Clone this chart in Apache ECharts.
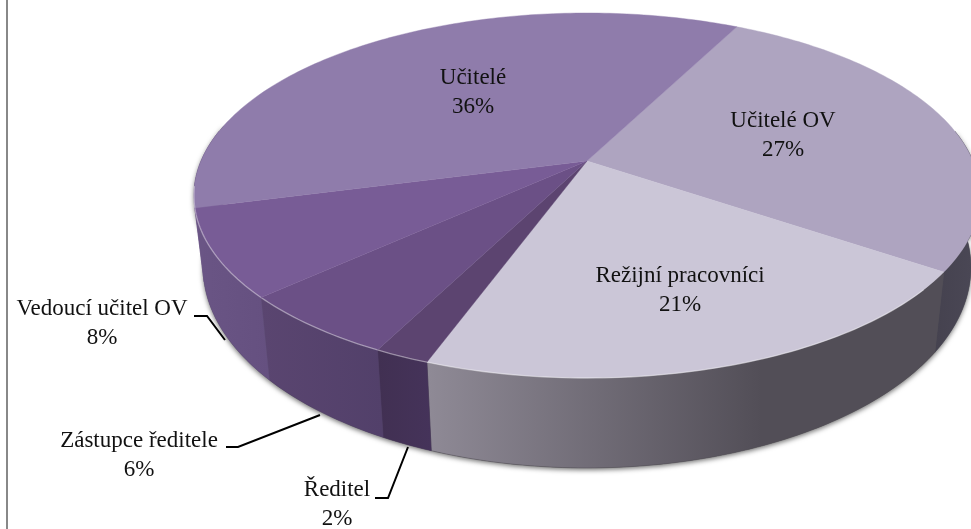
<!DOCTYPE html>
<html><head><meta charset="utf-8">
<style>html,body{margin:0;padding:0;background:#fff}#c{width:971px;height:529px}</style>
<script src="https://cdn.jsdelivr.net/npm/echarts@6/dist/echarts.min.js"></script>
</head><body><div id="c"></div>
<script>
// Data, clockwise from the first slice
const categories = ['Učitelé OV', 'Režijní pracovníci', 'Ředitel', 'Zástupce ředitele', 'Vedoucí učitel OV', 'Učitelé'];
const values = [26.9, 20.9, 1.9, 5.7, 7.7, 36.4];

// Styles and layout (separate from data)
const topColors = ['#aea4c0', '#cbc6d7', '#5c4470', '#6b5086', '#785c96', '#8f7cab'];
const wallStops = [
  ['#45424f', '#4b4856'], ['#8f8a96', '#524e57'], ['#413052', '#45335a'],
  ['#5a4570', '#52406a'], ['#6a5585', '#655080'], ['#6a5585', '#6a5585']
];
const labelPos = [[783, 121], [680, 276], [337, 490], [139, 441], [102, 309], [473, 78]];
const leaders = [
  null, null,
  [[375, 498], [388, 498], [408, 447]],
  [[226, 447], [238, 447], [320, 415]],
  [[194, 316], [207, 316], [225, 340]],
  null
];
const START = 27, CX = 587, CY = 161;
const P = 0.189, A = 176, B = 386, Q = 0.023, A2 = 185, H = 71;
const FONT = '"Liberation Serif", serif', FS = 23;

const rad = d => d * Math.PI / 180;
const topPt = t => { const s = Math.sin(rad(t)), c = Math.cos(rad(t)), w = 1 + P * c; return [CX + B * s / w, CY - A * c / w]; };
const botPt = t => { const s = Math.sin(rad(t)), c = Math.cos(rad(t)), w = 1 + P * c + Q; return [CX + B * s / w, CY + (H - A2 * c) / w]; };
const arc = (f, a, b) => { const n = Math.max(2, Math.ceil(Math.abs(b - a))), r = []; for (let i = 0; i <= n; i++) r.push(f(a + (b - a) * i / n)); return r; };

const total = values.reduce((a, b) => a + b, 0);
const ranges = []; let acc = START;
values.forEach(v => { const e = acc + v / total * 360; ranges.push([acc, e]); acc = e; });

const G = echarts.graphic;
const items = categories.map((n, i) => ({ name: n, value: [i, values[i]] }));

function renderWall(p, api) {
  const i = api.value(0), [a, b] = ranges[i];
  const a1 = Math.max(a, 80), b1 = Math.min(b, 280);
  if (b1 <= a1) return { type: 'group', children: [] };
  const pts = arc(topPt, a1, b1).concat(arc(botPt, a1, b1).reverse());
  const xs = pts.map(q => q[0]);
  return {
    type: 'polygon', shape: { points: pts },
    style: {
      fill: new G.LinearGradient(Math.min(...xs), 0, Math.min(...xs) + (i === 1 ? 335 : Math.max(...xs) - Math.min(...xs)), 0,
        [{ offset: 0, color: wallStops[i][0] }, { offset: 1, color: wallStops[i][1] }], true),
      stroke: wallStops[i][1], lineWidth: 0.5
    }
  };
}
function renderShadow(p, api) {
  if (api.value(0) !== 0) return { type: 'group', children: [] };
  return {
    type: 'polygon', shape: { points: arc(botPt, 80, 282).concat(arc(topPt, 282, 80)) },
    style: { fill: '#555', shadowColor: 'rgba(0,0,0,0.55)', shadowBlur: 5, shadowOffsetY: 2 }
  };
}
function renderTop(p, api) {
  const i = api.value(0), [a, b] = ranges[i];
  const rimA = Math.max(a, 130), rimB = Math.min(b, 262);
  const kids = [{
    type: 'polygon', shape: { points: [[CX, CY]].concat(arc(topPt, a, b)) },
    style: { fill: topColors[i], stroke: topColors[i], lineWidth: 0.4 }
  }];
  if (rimB > rimA) kids.push({
    type: 'polyline', shape: { points: arc(topPt, rimA, rimB) },
    style: { fill: null, stroke: 'rgba(255,255,255,0.4)', lineWidth: 1.3 }
  });
  return { type: 'group', children: kids };
}
function renderLabel(p, api) {
  const i = api.value(0), pos = labelPos[i], kids = [];
  if (leaders[i]) kids.push({ type: 'polyline', shape: { points: leaders[i] }, style: { fill: null, stroke: '#000', lineWidth: 2 } });
  kids.push({ type: 'text', x: pos[0], y: pos[1], style: { text: categories[i], font: FS + 'px ' + FONT, fill: '#111', align: 'center', verticalAlign: 'middle' } });
  kids.push({ type: 'text', x: pos[0], y: pos[1] + 29, style: { text: Math.round(values[i]) + '%', font: FS + 'px ' + FONT, fill: '#111', align: 'center', verticalAlign: 'middle' } });
  return { type: 'group', children: kids };
}
const layer = (fn, z) => ({ type: 'custom', coordinateSystem: 'none', renderItem: fn, data: items, z, silent: true, animation: false, clip: false });

const chart = echarts.init(document.getElementById('c'), null, { renderer: 'canvas' });
chart.setOption({
  animation: false,
  backgroundColor: '#fff',
  graphic: [{ type: 'rect', shape: { x: 6, y: 0, width: 2, height: 529 }, style: { fill: '#888' }, silent: true }],
  series: [layer(renderShadow, 1), layer(renderWall, 2), layer(renderTop, 3), layer(renderLabel, 4)]
});
</script></body></html>
